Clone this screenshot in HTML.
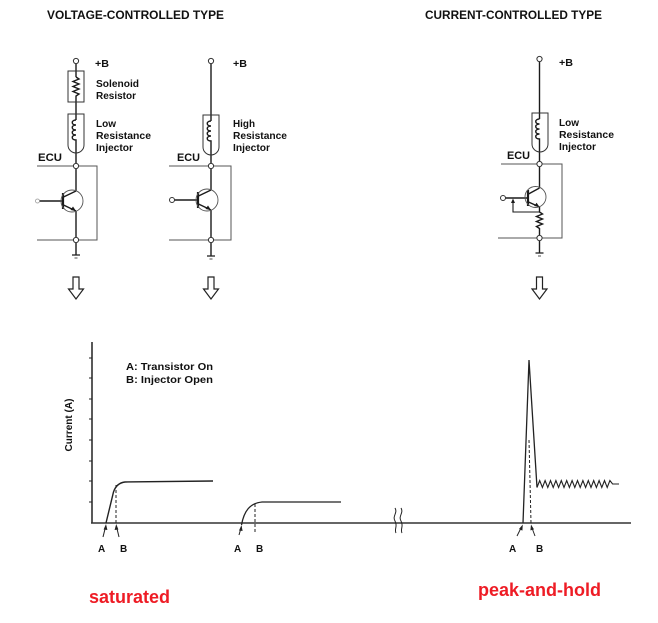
<!DOCTYPE html>
<html>
<head>
<meta charset="utf-8">
<style>
html,body{margin:0;padding:0;background:#fff;}
svg{display:block;}
text{font-family:"Liberation Sans",Arial,sans-serif;font-weight:bold;fill:#111;}
</style>
</head>
<body>
<svg width="658" height="623" viewBox="0 0 658 623" xmlns="http://www.w3.org/2000/svg">
<!-- Titles -->
<text x="47" y="19" font-size="11.5" textLength="177" lengthAdjust="spacingAndGlyphs">VOLTAGE-CONTROLLED TYPE</text>
<text x="425" y="19" font-size="11.5" textLength="177" lengthAdjust="spacingAndGlyphs">CURRENT-CONTROLLED TYPE</text>

<!-- ================= Circuit 1 ================= -->
<g stroke="#1a1a1a" stroke-width="1.4" fill="none">
  <!-- main line segments -->
  <line x1="76" y1="63.5" x2="76" y2="77"/>
  <polyline points="76,77 79,79 73,81.5 79,84 73,86.5 79,89 73,91.5 79,94 76,96 76,120"/>
  <path d="M76,120 c-5,0 -5,5 0,5 c-5,0 -5,5 0,5 c-5,0 -5,5 0,5 c-5,0 -5,5 0,5 L76,166"/>
  <!-- transistor -->
  <line x1="76" y1="168.5" x2="76" y2="191"/>
  <line x1="76" y1="191" x2="63.5" y2="197"/>
  <line x1="63.5" y1="205" x2="76" y2="211"/>
  <line x1="76" y1="211" x2="76" y2="237.5"/>
  <line x1="39.5" y1="201" x2="63" y2="201"/>
  <line x1="63" y1="193" x2="63" y2="209" stroke-width="2.2"/>
  <line x1="76" y1="242.5" x2="76" y2="255"/>
</g>
<polygon points="76,211 70.5,210 73,206.5" fill="#1a1a1a"/>
<circle cx="72" cy="201" r="11" fill="none" stroke="#555" stroke-width="0.9"/>
<rect x="68" y="71" width="16" height="31" fill="none" stroke="#333" stroke-width="1"/>
<path d="M68,114 H84 V145 A8,8 0 0 1 68,145 Z" fill="none" stroke="#333" stroke-width="1"/>
<g stroke="#555" stroke-width="1" fill="none">
  <polyline points="37,166 97,166 97,240 37,240"/>
</g>
<g stroke="#222" stroke-width="1.3">
  <line x1="72" y1="255" x2="80" y2="255"/>
  <line x1="74.5" y1="258" x2="77.5" y2="258" stroke-width="0.8"/>
</g>
<circle cx="76" cy="61" r="2.6" fill="#fff" stroke="#333" stroke-width="1"/>
<circle cx="76" cy="166" r="2.6" fill="#fff" stroke="#333" stroke-width="1"/>
<circle cx="76" cy="240" r="2.6" fill="#fff" stroke="#333" stroke-width="1"/>
<circle cx="37.5" cy="201" r="2" fill="#fff" stroke="#999" stroke-width="0.8"/>
<text x="95" y="67" font-size="10.5" textLength="14" lengthAdjust="spacingAndGlyphs">+B</text>
<text x="96" y="87" font-size="10" textLength="43" lengthAdjust="spacingAndGlyphs">Solenoid</text>
<text x="96" y="99" font-size="10" textLength="40" lengthAdjust="spacingAndGlyphs">Resistor</text>
<text x="96" y="127" font-size="10" textLength="20" lengthAdjust="spacingAndGlyphs">Low</text>
<text x="96" y="139" font-size="10" textLength="55" lengthAdjust="spacingAndGlyphs">Resistance</text>
<text x="96" y="151" font-size="10" textLength="37" lengthAdjust="spacingAndGlyphs">Injector</text>
<text x="38" y="161" font-size="11" textLength="24" lengthAdjust="spacingAndGlyphs">ECU</text>
<polygon points="73,277 79,277 79,289 83.5,289 76,299 68.5,289 73,289" fill="#fff" stroke="#222" stroke-width="1.2"/>

<!-- ================= Circuit 2 ================= -->
<g stroke="#1a1a1a" stroke-width="1.4" fill="none">
  <line x1="211" y1="63.5" x2="211" y2="121"/>
  <path d="M211,121 c-5,0 -5,5 0,5 c-5,0 -5,5 0,5 c-5,0 -5,5 0,5 c-5,0 -5,5 0,5 L211,163.5"/>
  <line x1="211" y1="168.5" x2="211" y2="190"/>
  <line x1="211" y1="190" x2="198.5" y2="196"/>
  <line x1="198.5" y1="204" x2="211" y2="210"/>
  <line x1="211" y1="210" x2="211" y2="237.5"/>
  <line x1="174.5" y1="200" x2="198" y2="200"/>
  <line x1="198" y1="192" x2="198" y2="208" stroke-width="2.2"/>
  <line x1="211" y1="242.5" x2="211" y2="256"/>
</g>
<polygon points="211,210 205.5,209 208,205.5" fill="#1a1a1a"/>
<circle cx="207" cy="200" r="11" fill="none" stroke="#555" stroke-width="0.9"/>
<path d="M203,115 H219 V147 A8,8 0 0 1 203,147 Z" fill="none" stroke="#333" stroke-width="1"/>
<polyline points="169,166 231,166 231,240 169,240" fill="none" stroke="#555" stroke-width="1"/>
<g stroke="#222" stroke-width="1.3">
  <line x1="207" y1="256" x2="215" y2="256"/>
  <line x1="209.5" y1="259" x2="212.5" y2="259" stroke-width="0.8"/>
</g>
<circle cx="211" cy="61" r="2.6" fill="#fff" stroke="#333" stroke-width="1"/>
<circle cx="211" cy="166" r="2.6" fill="#fff" stroke="#333" stroke-width="1"/>
<circle cx="211" cy="240" r="2.6" fill="#fff" stroke="#333" stroke-width="1"/>
<circle cx="172" cy="200" r="2.5" fill="#fff" stroke="#333" stroke-width="1"/>
<text x="233" y="67" font-size="10.5" textLength="14" lengthAdjust="spacingAndGlyphs">+B</text>
<text x="233" y="127" font-size="10" textLength="22" lengthAdjust="spacingAndGlyphs">High</text>
<text x="233" y="139" font-size="10" textLength="54" lengthAdjust="spacingAndGlyphs">Resistance</text>
<text x="233" y="151" font-size="10" textLength="37" lengthAdjust="spacingAndGlyphs">Injector</text>
<text x="177" y="161" font-size="11" textLength="23" lengthAdjust="spacingAndGlyphs">ECU</text>
<polygon points="208,277 214,277 214,289 218.5,289 211,299 203.5,289 208,289" fill="#fff" stroke="#222" stroke-width="1.2"/>

<!-- ================= Circuit 3 ================= -->
<g stroke="#1a1a1a" stroke-width="1.4" fill="none">
  <line x1="539.5" y1="61.5" x2="539.5" y2="119"/>
  <path d="M539.5,119 c-5,0 -5,5 0,5 c-5,0 -5,5 0,5 c-5,0 -5,5 0,5 c-5,0 -5,5 0,5 L539.5,161.5"/>
  <line x1="539.5" y1="166.5" x2="539.5" y2="188"/>
  <line x1="539.5" y1="188" x2="528.5" y2="194"/>
  <line x1="528.5" y1="202" x2="539.5" y2="207"/>
  <polyline points="539.5,207 539.5,212 542.5,214 536.5,216.5 542.5,219 536.5,221.5 542.5,224 536.5,226.5 539.5,228.5 539.5,235.5"/>
  <line x1="505.5" y1="198" x2="528" y2="198"/>
  <line x1="528" y1="190" x2="528" y2="206" stroke-width="2.2"/>
  <polyline points="513,202 513,212 539.5,212" stroke-width="1.1"/>
  <line x1="539.5" y1="240.5" x2="539.5" y2="253"/>
</g>
<polygon points="513,198.5 511,203 515,203" fill="#1a1a1a"/>
<polygon points="539.5,207 534.2,206 536.6,202.8" fill="#1a1a1a"/>
<circle cx="535.5" cy="197" r="10.5" fill="none" stroke="#555" stroke-width="0.9"/>
<path d="M532,113 H548 V144 A8,8 0 0 1 532,144 Z" fill="none" stroke="#333" stroke-width="1"/>
<polyline points="501,164 562,164 562,238 498,238" fill="none" stroke="#555" stroke-width="1"/>
<g stroke="#222" stroke-width="1.3">
  <line x1="535.5" y1="253" x2="543.5" y2="253"/>
  <line x1="538" y1="256" x2="541" y2="256" stroke-width="0.8"/>
</g>
<circle cx="539.5" cy="59" r="2.6" fill="#fff" stroke="#333" stroke-width="1"/>
<circle cx="539.5" cy="164" r="2.6" fill="#fff" stroke="#333" stroke-width="1"/>
<circle cx="539.5" cy="238" r="2.6" fill="#fff" stroke="#333" stroke-width="1"/>
<circle cx="503" cy="198" r="2.5" fill="#fff" stroke="#333" stroke-width="1"/>
<text x="559" y="66" font-size="10.5" textLength="14" lengthAdjust="spacingAndGlyphs">+B</text>
<text x="559" y="126" font-size="10" textLength="20" lengthAdjust="spacingAndGlyphs">Low</text>
<text x="559" y="138" font-size="10" textLength="55" lengthAdjust="spacingAndGlyphs">Resistance</text>
<text x="559" y="150" font-size="10" textLength="37" lengthAdjust="spacingAndGlyphs">Injector</text>
<text x="507" y="159" font-size="11" textLength="23" lengthAdjust="spacingAndGlyphs">ECU</text>
<polygon points="536.5,277 542.5,277 542.5,289 547,289 539.5,299 532,289 536.5,289" fill="#fff" stroke="#222" stroke-width="1.2"/>

<!-- ================= Chart ================= -->
<g stroke="#222" fill="none">
  <line x1="92" y1="342" x2="92" y2="523.5" stroke-width="1.5"/>
  <line x1="91" y1="523" x2="631" y2="523" stroke-width="1.5" stroke="#333"/>
  <g stroke-width="1">
    <line x1="89" y1="358" x2="92" y2="358"/>
    <line x1="89" y1="378" x2="92" y2="378"/>
    <line x1="89" y1="399" x2="92" y2="399"/>
    <line x1="89" y1="419" x2="92" y2="419"/>
    <line x1="89" y1="440" x2="92" y2="440"/>
    <line x1="89" y1="461" x2="92" y2="461"/>
    <line x1="89" y1="481" x2="92" y2="481"/>
    <line x1="89" y1="502" x2="92" y2="502"/>
  </g>
  <!-- break -->
  <path d="M395,508 c3,5 -3,8 0,13 c3,5 -1,8 1,12" stroke-width="1"/>
  <path d="M401,508 c3,5 -3,8 0,13 c3,5 -1,8 1,12" stroke-width="1"/>
  <!-- curve 1 -->
  <path d="M106,523 L113.5,492 Q116.5,483 125,482 L213,481" stroke-width="1.4"/>
  <line x1="116" y1="485" x2="116" y2="523" stroke-width="1" stroke-dasharray="3,2"/>
  <line x1="103" y1="537" x2="105.5" y2="527" stroke-width="1"/>
  <line x1="119" y1="537" x2="116.6" y2="527" stroke-width="1"/>
  <!-- curve 2 -->
  <path d="M241.5,525 C244,511 250,503 262,502 L341,502" stroke-width="1.3"/>
  <line x1="255" y1="504" x2="255" y2="534" stroke-width="1" stroke-dasharray="3,2"/>
  <line x1="239" y1="535" x2="241" y2="528" stroke-width="1"/>
  <!-- curve 3 -->
  <path d="M523,523 L529,360 L537,487.5" stroke-width="1.3"/>
  <polyline stroke-width="1.1" points="537,487.5 539.7,480.5 542.4,487.5 545.1,480.5 547.8,487.5 550.5,480.5 553.2,487.5 555.9,480.5 558.6,487.5 561.3,480.5 564,487.5 566.7,480.5 569.4,487.5 572.1,480.5 574.8,487.5 577.5,480.5 580.2,487.5 582.9,480.5 585.6,487.5 588.3,480.5 591,487.5 593.7,480.5 596.4,487.5 599.1,480.5 601.8,487.5 604.5,480.5 607.2,487.5 609.9,480.5 612.6,484 619,484"/>
  <line x1="529" y1="440" x2="531" y2="523" stroke-width="1" stroke-dasharray="3,2"/>
  <line x1="517" y1="536" x2="521" y2="528" stroke-width="1"/>
  <line x1="535" y1="536" x2="532" y2="528" stroke-width="1"/>
</g>
<polygon points="106,524 103.6,529.5 107.4,530" fill="#222"/>
<polygon points="116.2,524 114.6,530 118.4,529.5" fill="#222"/>
<polygon points="241.5,525 239,530.5 242.6,531" fill="#222"/>
<polygon points="522.8,524.5 519,529 522.4,530.6" fill="#222"/>
<polygon points="531,524.5 530.4,530.4 534,529.4" fill="#222"/>

<text transform="translate(72,425) rotate(-90)" text-anchor="middle" font-size="10" textLength="53" lengthAdjust="spacingAndGlyphs">Current (A)</text>
<text x="126" y="370" font-size="10" textLength="87" lengthAdjust="spacingAndGlyphs">A:  Transistor On</text>
<text x="126" y="383" font-size="10" textLength="87" lengthAdjust="spacingAndGlyphs">B:  Injector Open</text>

<text x="98" y="552" font-size="10">A</text>
<text x="120" y="552" font-size="10">B</text>
<text x="234" y="552" font-size="10">A</text>
<text x="256" y="552" font-size="10">B</text>
<text x="509" y="552" font-size="10">A</text>
<text x="536" y="552" font-size="10">B</text>

<text x="89" y="603" font-size="18" textLength="81" lengthAdjust="spacingAndGlyphs" style="fill:#ee1c25">saturated</text>
<text x="478" y="596" font-size="18" textLength="123" lengthAdjust="spacingAndGlyphs" style="fill:#ee1c25">peak-and-hold</text>
</svg>
</body>
</html>
